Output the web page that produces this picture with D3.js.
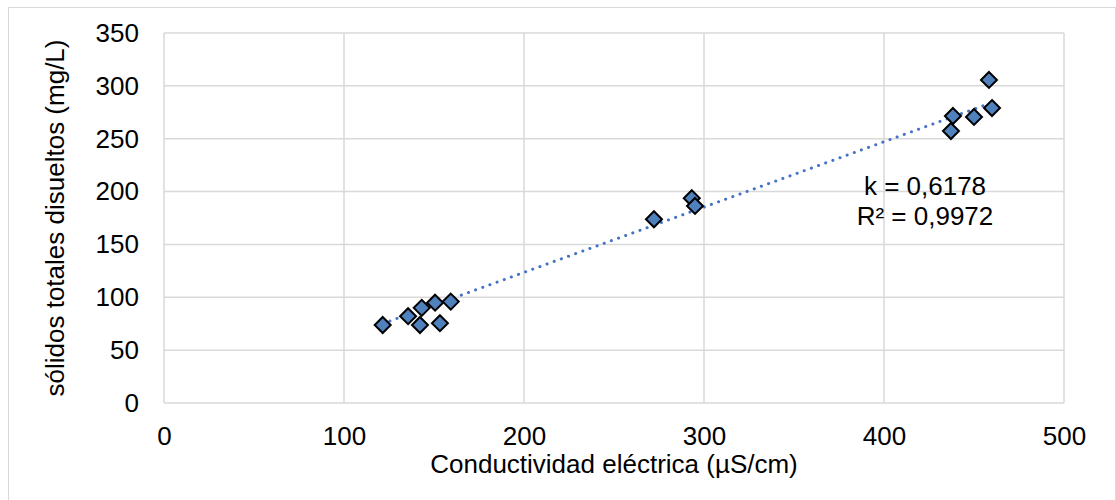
<!DOCTYPE html>
<html>
<head>
<meta charset="utf-8">
<script src="https://cdn.jsdelivr.net/npm/d3@7"></script>
<style>
  body { margin: 0; background: #fff; }
  text { font-family: "Liberation Sans", Arial, sans-serif; fill: #000; }
</style>
</head>
<body>
<script>
// conductividad (µS/cm) vs STD (mg/L)
let conductividad = [121.5, 135.6, 143.2, 142.2, 150.6, 153.3, 159.3, 272.2, 293.2, 295, 437.2, 438.3, 450, 458.3, 460]
let std = [73.8, 82.1, 90, 73.8, 94.9, 75.5, 95.9, 173.8, 193.7, 186.4, 257.3, 271.5, 270.6, 305.6, 279]
let xTicks = [0, 100, 200, 300, 400, 500]
let yTicks = [0, 50, 100, 150, 200, 250, 300, 350]
let k = 0.6178
let labelK = "k = 0,6178"
let labelR2 = "R² = 0,9972"

let W = 1116, H = 500
let fs = 26
let m = {left: 164, right: 1116 - 1064, top: 33, bottom: 500 - 403}

let svg = d3.select("body").append("svg").attr("width", W).attr("height", H)

svg.append("rect")
  .attr("x", 8.5).attr("y", 7.5).attr("width", W - 9).attr("height", H)
  .attr("fill", "#fff").attr("stroke", "#d9d9d9").attr("stroke-width", 1)

let x = d3.scaleLinear().domain([0, 500]).range([m.left, W - m.right])
let y = d3.scaleLinear().domain([0, 350]).range([H - m.bottom, m.top])

// grid
svg.append("g").selectAll("line").data(yTicks).join("line")
  .attr("x1", x(0)).attr("x2", x(500))
  .attr("y1", d => y(d)).attr("y2", d => y(d))
  .attr("stroke", "#d9d9d9").attr("stroke-width", 1.5)
svg.append("g").selectAll("line").data(xTicks).join("line")
  .attr("y1", y(0)).attr("y2", y(350))
  .attr("x1", d => x(d)).attr("x2", d => x(d))
  .attr("stroke", "#d9d9d9").attr("stroke-width", 1.5)

// axes (labels only)
let xAxis = svg.append("g").attr("transform", "translate(0," + y(0) + ")")
  .call(d3.axisBottom(x).tickValues(xTicks).tickSize(0).tickPadding(24).tickFormat(d3.format("d")))
let yAxis = svg.append("g").attr("transform", "translate(" + x(0) + ",0)")
  .call(d3.axisLeft(y).tickValues(yTicks).tickSize(0).tickPadding(25).tickFormat(d3.format("d")))
xAxis.select(".domain").remove()
yAxis.select(".domain").remove()
svg.selectAll(".tick text").attr("font-size", fs).attr("font-family", "Liberation Sans, Arial, sans-serif").attr("fill", "#000")

svg.append("text")
  .attr("x", (x(0) + x(500)) / 2).attr("y", 473)
  .attr("text-anchor", "middle").attr("font-size", fs)
  .text("Conductividad eléctrica (µS/cm)")
svg.append("text")
  .attr("transform", "translate(64," + (y(0) + y(350)) / 2 + ") rotate(-90)")
  .attr("text-anchor", "middle").attr("font-size", fs)
  .text("sólidos totales disueltos (mg/L)")

// trendline y = k x
let xmin = d3.min(conductividad), xmax = d3.max(conductividad)
svg.append("line")
  .attr("x1", x(xmin)).attr("y1", y(k * xmin))
  .attr("x2", x(xmax)).attr("y2", y(k * xmax))
  .attr("stroke", "#4472c4").attr("stroke-width", 3)
  .attr("stroke-dasharray", "0.1 7.5").attr("stroke-linecap", "round")

// points
let pts = conductividad.map((c, i) => [c, std[i]])
svg.append("g").selectAll("path").data(pts).join("path")
  .attr("transform", d => "translate(" + x(d[0]) + "," + y(d[1]) + ")")
  .attr("d", "M0,-8L8,0L0,8L-8,0Z")
  .attr("fill", "#4f81bd").attr("stroke", "#000").attr("stroke-width", 2)

// annotation
let ann = svg.append("text").attr("text-anchor", "middle").attr("font-size", fs)
ann.append("tspan").attr("x", 925).attr("y", 195).text(labelK)
ann.append("tspan").attr("x", 925).attr("y", 225).text(labelR2)
</script>
</body>
</html>
